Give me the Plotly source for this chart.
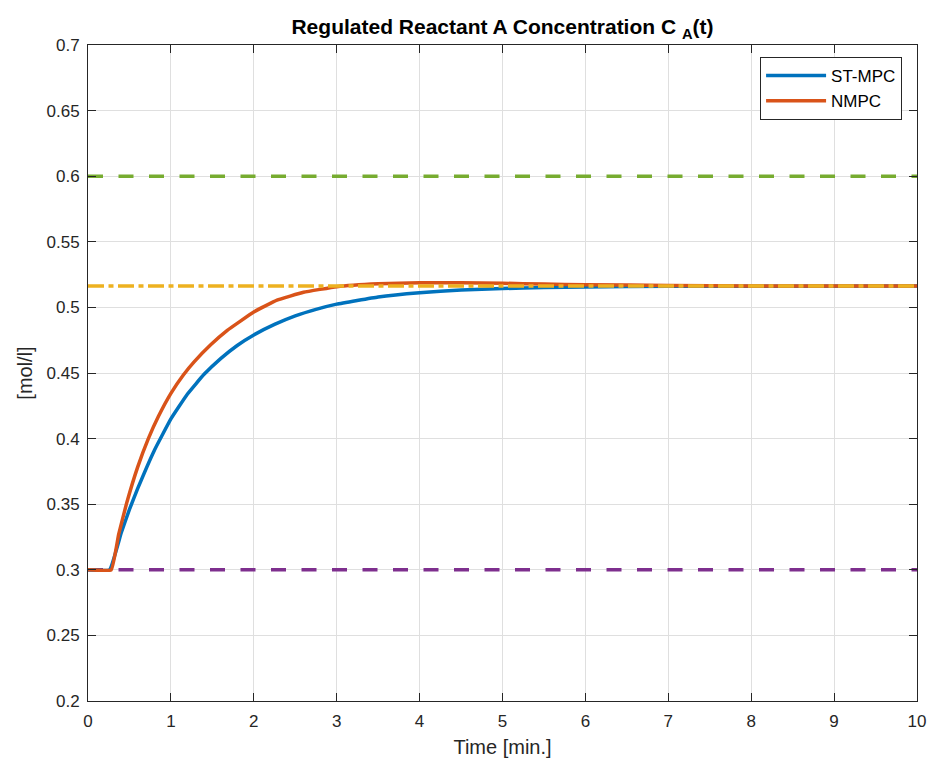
import plotly.graph_objects as go

# Data
st_t = [0, 0.26, 0.4, 0.5, 0.6, 0.8, 1.0, 1.2, 1.4, 1.6, 1.8, 2.0, 2.25, 2.5, 2.75, 3.0, 3.5, 4.0, 4.5, 5.0, 5.5, 6.0, 7.0, 8.0, 10.0]
st_v = [0.3, 0.3, 0.328, 0.346, 0.362, 0.391, 0.415, 0.434, 0.449, 0.461, 0.471, 0.479, 0.487, 0.4935, 0.4985, 0.5025, 0.508, 0.5112, 0.5132, 0.5144, 0.5151, 0.5156, 0.5161, 0.5162, 0.5163]

nm_t = [0, 0.28, 0.37, 0.467, 0.6, 0.728, 0.85, 1.0, 1.15, 1.28, 1.48, 1.68, 2.0, 2.28, 2.6, 3.0, 3.5, 4.0, 4.5, 5.0, 5.5, 6.0, 7.0, 8.0, 10.0]
nm_v = [0.3, 0.3, 0.327, 0.351, 0.3785, 0.4, 0.417, 0.4345, 0.4485, 0.4585, 0.4715, 0.4825, 0.4965, 0.5055, 0.5115, 0.5158, 0.518, 0.5188, 0.5188, 0.5184, 0.5178, 0.5173, 0.5167, 0.5164, 0.5163]

setpoint = 0.5163
upper_bound = 0.6
lower_bound = 0.3
x_range = [0, 10]

x_ticks = list(range(0, 11))
y_ticks = [0.2, 0.25, 0.3, 0.35, 0.4, 0.45, 0.5, 0.55, 0.6, 0.65, 0.7]
y_labels = ["0.2", "0.25", "0.3", "0.35", "0.4", "0.45", "0.5", "0.55", "0.6", "0.65", "0.7"]

BLUE = "#0072BD"
ORANGE = "#D95319"
YELLOW = "#EDB120"
PURPLE = "#7E2F8E"
GREEN = "#77AC30"
FONT = "Liberation Sans, Arial, Helvetica"

fig = go.Figure()
fig.add_trace(go.Scatter(x=x_range, y=[upper_bound]*2, mode="lines",
                         line=dict(color=GREEN, width=3.5, dash="15px,15.5px"), showlegend=False))
fig.add_trace(go.Scatter(x=x_range, y=[lower_bound]*2, mode="lines",
                         line=dict(color=PURPLE, width=3.5, dash="15px,15.5px"), showlegend=False))
fig.add_trace(go.Scatter(x=st_t, y=st_v, mode="lines", name="ST-MPC",
                         line=dict(color=BLUE, width=3.5, shape="spline", smoothing=0.3)))
fig.add_trace(go.Scatter(x=nm_t, y=nm_v, mode="lines", name="NMPC",
                         line=dict(color=ORANGE, width=3.5, shape="spline", smoothing=0.3)))
fig.add_trace(go.Scatter(x=x_range, y=[setpoint]*2, mode="lines",
                         line=dict(color=YELLOW, width=3.5, dash="16px,4.5px,5px,4.5px"), showlegend=False))

axis_common = dict(showline=True, linecolor="#262626", linewidth=1, mirror="ticks",
                   ticks="inside", ticklen=8, tickcolor="#262626",
                   showgrid=True, gridcolor="#DFDFDF", gridwidth=1, zeroline=False,
                   automargin=False,
                   tickfont=dict(family=FONT, size=17, color="#262626"))

fig.update_xaxes(range=x_range, tickvals=x_ticks,
                 title=dict(text="Time [min.]", font=dict(family=FONT, size=20, color="#262626"), standoff=9),
                 ticklabelstandoff=5,
                 **axis_common)
fig.update_yaxes(range=[0.2, 0.7], tickvals=y_ticks, ticktext=y_labels,
                 title=dict(text="[mol/l]", font=dict(family=FONT, size=20, color="#262626"), standoff=8),
                 ticklabelstandoff=4,
                 **axis_common)

fig.update_layout(
    width=935, height=763,
    margin=dict(l=88, r=18, t=45, b=62),
    paper_bgcolor="white", plot_bgcolor="white",
    title=dict(text="<b>Regulated Reactant A Concentration C <sub>A</sub>(t)</b>",
               x=(88 + 917) / 2 / 935, xanchor="center", y=1 - 27 / 763, yanchor="middle",
               font=dict(family=FONT, size=21, color="black")),
    legend=dict(x=0.982, y=0.9817, xanchor="right", yanchor="top",
                bgcolor="white", bordercolor="#262626", borderwidth=1,
                font=dict(family=FONT, size=17, color="black"),
                tracegroupgap=0, itemwidth=60),
)

fig.write_html("out.html")
